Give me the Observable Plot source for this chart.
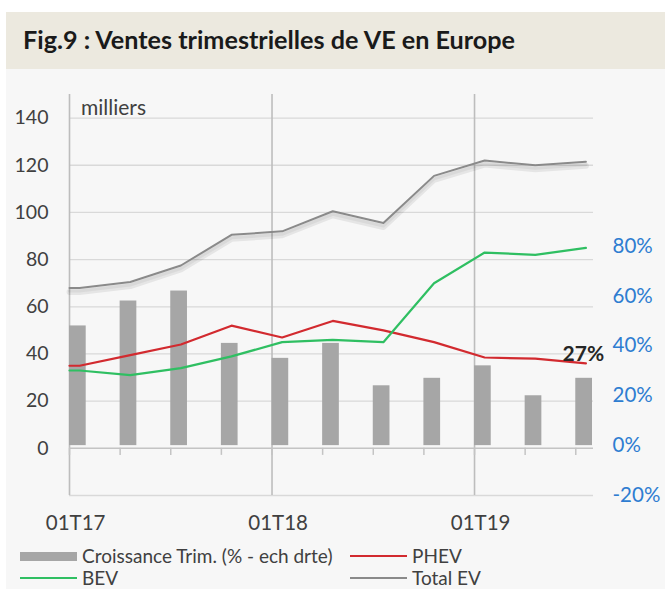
<!DOCTYPE html>
<html>
<head>
<meta charset="utf-8">
<script src="https://cdn.jsdelivr.net/npm/d3@7"></script>
<script src="https://cdn.jsdelivr.net/npm/@observablehq/plot@0.6"></script>
<style>
  html, body { margin: 0; padding: 0; background: #ffffff; }
  body { width: 665px; height: 589px; position: relative; overflow: hidden; font-family: Lato, "Open Sans", sans-serif; color: #404040; }
  #titlebar { position: absolute; left: 6px; top: 12px; width: 659px; height: 57px; background: #ece9df; }
  #title { position: absolute; left: 17px; top: 12px; font-weight: bold; font-size: 25.2px; line-height: 30px; color: #1a1a1a; white-space: nowrap; }
  #panel { position: absolute; left: 6px; top: 69px; width: 659px; height: 520px; background: #f7f7f7; }
  #chart { position: absolute; left: 0; top: 69px; }
  #unit { position: absolute; left: 81px; top: 95px; font-size: 21px; line-height: 24px; color: #404040; }
  .leg { position: absolute; font-size: 19px; line-height: 20px; color: #404040; white-space: nowrap; }
  .sw { position: absolute; }
</style>
</head>
<body>
<div id="titlebar"><div id="title">Fig.9 : Ventes trimestrielles de VE en Europe</div></div>
<div id="panel"></div>
<div id="chart"></div>
<div id="unit">milliers</div>
<div id="legend"></div>
<script>
// ---- data ----
const quarters = ["01T17","02T17","03T17","04T17","01T18","02T18","03T18","04T18","01T19","02T19","03T19"];
const growth = [48, 58, 62, 41, 35, 41, 24, 27, 32, 20, 27];           // % (right axis)
const phev   = [35, 39.5, 44, 52, 47, 54, 50, 45, 38.5, 38, 36];         // milliers
const bev    = [33, 31, 34, 39, 45, 46, 45, 70, 83, 82, 85];             // milliers
const total  = [68, 70.5, 77.5, 90.5, 92, 100.5, 95.5, 115.5, 122, 120, 121.5];
const leftTicks = [0, 20, 40, 60, 80, 100, 120, 140];
const gridTicks = [-20, 0, 20, 40, 60, 80, 100, 120, 140];
const rightTicks = [-20, 0, 20, 40, 60, 80];
const xLabels = ["01T17", "01T18", "01T19"];
const lastLabel = "27%";

// secondary (right) axis: percent -> left units
const k = 2.5 / 2.365;
const toLeft = p => -20 + (p + 20) * k;
const fromLeft = v => (v + 20) / k - 20;

const idx = quarters.map((q, i) => i);
const barData = idx.map(i => ({x1: i, x2: i + 0.33, y1: toLeft(0), y2: toLeft(growth[i])}));
function series(vals) {
  const pts = vals.map((v, i) => ({x: i + 0.2, y: v}));
  return [{x: 0, y: vals[0]}, ...pts];
}
const phevS = series(phev), bevS = series(bev), totalS = series(total);
const xMax = 10.35;

const chart = Plot.plot({
  width: 665,
  height: 471,
  marginTop: 25,
  marginBottom: 45,
  marginLeft: 69,
  marginRight: 72,
  style: {background: "transparent", fontFamily: "Lato, 'Open Sans', sans-serif", color: "#404040"},
  x: {domain: [0, xMax], axis: null},
  y: {domain: [-20, 150], axis: null},
  marks: [
    Plot.ruleY(gridTicks.filter(d => d !== 0), {x1: 0, x2: xMax, stroke: "#d9d9d9", strokeWidth: 1.3}),
    Plot.ruleX([0, 4, 8], {y1: -20, y2: 150, stroke: "#bdbdbd", strokeWidth: 1.6}),
    Plot.rect(barData, {x1: "x1", x2: "x2", y1: "y1", y2: "y2", fill: "#a6a6a6"}),
    Plot.ruleY([0], {x1: 0, x2: xMax, stroke: "#c4c4c4", strokeWidth: 1.5}),
    Plot.ruleX(idx, {y1: 0, y2: -3, stroke: "#c4c4c4", strokeWidth: 1.5}),
    Plot.line(totalS, {x: "x", y: "y", stroke: "#000", strokeOpacity: 0.07, strokeWidth: 6, dy: 4}),
    Plot.line(totalS, {x: "x", y: "y", stroke: "#000", strokeOpacity: 0.05, strokeWidth: 3, dy: 3}),
    Plot.line(totalS, {x: "x", y: "y", stroke: "#8a8a8a", strokeWidth: 2}),
    Plot.line(phevS, {x: "x", y: "y", stroke: "#d22a2f", strokeWidth: 2.2}),
    Plot.line(bevS, {x: "x", y: "y", stroke: "#2fbf62", strokeWidth: 2.2}),
    Plot.text([growth[growth.length - 1]], {x: quarters.length - 1 + 0.15, y: d => toLeft(d), text: () => lastLabel, dy: -24, fontWeight: "bold", fontSize: 21, fill: "#262626"}),
    Plot.axisY({ticks: leftTicks, anchor: "left", tickSize: 0, tickPadding: 21, fontSize: 19.5, tickFormat: d => d, color: "#404040"}),
    Plot.axisY({ticks: rightTicks.map(toLeft), anchor: "right", tickSize: 0, tickPadding: 19, fontSize: 20.5, textAnchor: "start", tickFormat: v => Math.round(fromLeft(v)) + "%", color: "#2e7dd1"}),
    Plot.axisX({ticks: xLabels.map(l => quarters.indexOf(l) + 0.12), tickSize: 0, tickPadding: 20, fontSize: 20.5, tickFormat: v => quarters[Math.round(v - 0.12)], color: "#404040", label: null})
  ]
});
document.getElementById("chart").appendChild(chart);

// legend
const legendItems = [
  {label: "Croissance Trim. (% - ech drte)", type: "rect", color: "#a6a6a6", x: 20, y: 556},
  {label: "PHEV", type: "line", color: "#d22a2f", x: 350, y: 556},
  {label: "BEV", type: "line", color: "#2fbf62", x: 20, y: 578},
  {label: "Total EV", type: "line", color: "#8a8a8a", x: 350, y: 578}
];
const lg = document.getElementById("legend");
legendItems.forEach(it => {
  const sw = document.createElement("div");
  sw.className = "sw";
  sw.style.left = it.x + "px";
  sw.style.width = "57px";
  sw.style.background = it.color;
  if (it.type === "rect") { sw.style.height = "9px"; sw.style.top = (it.y - 4.5) + "px"; }
  else { sw.style.height = "2.5px"; sw.style.top = (it.y - 1.25) + "px"; }
  lg.appendChild(sw);
  const t = document.createElement("div");
  t.className = "leg";
  t.textContent = it.label;
  t.style.left = (it.x + 62) + "px";
  t.style.top = (it.y - 10) + "px";
  lg.appendChild(t);
});
</script>
</body>
</html>
